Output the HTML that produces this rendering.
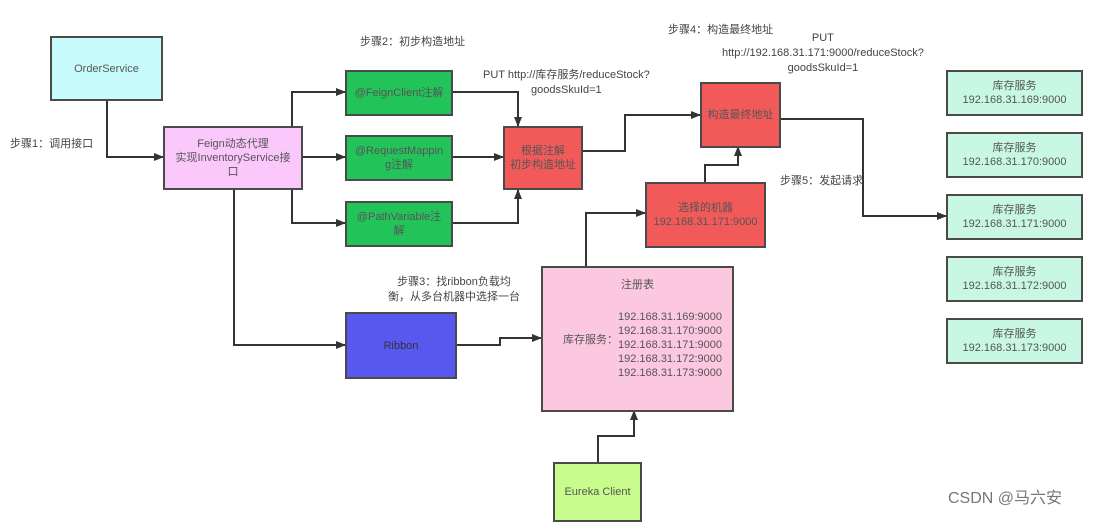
<!DOCTYPE html>
<html><head><meta charset="utf-8"><style>
body{margin:0;width:1095px;height:513px;background:#fff;overflow:hidden;position:relative;font-family:"Liberation Sans","Noto Sans CJK SC",sans-serif;}
.b{position:absolute;border:2px solid #4a4a4a;box-sizing:border-box;display:flex;align-items:center;justify-content:center;text-align:center;font-size:11px;color:#555;line-height:14px;}
.t{position:absolute;font-size:11px;color:#444;white-space:nowrap;line-height:15px;}
.g{background:#22c45a;}.r{background:#f25a5a;}.s{background:#c8f8e4;}
</style></head><body>
<svg width="1095" height="513" style="position:absolute;left:0;top:0">
<defs><marker id="a" markerWidth="10" markerHeight="8" refX="9" refY="4" orient="auto" markerUnits="userSpaceOnUse"><path d="M0,0L10,4L0,8z" fill="#333"/></marker></defs>
<g fill="none" stroke="#333" stroke-width="2" marker-end="url(#a)">
<polyline points="107,100 107,157 163,157"/>
<polyline points="292,126 292,92 345,92"/>
<polyline points="303,157 345,157"/>
<polyline points="292,189 292,223 345,223"/>
<polyline points="453,92 518,92 518,126"/>
<polyline points="453,157 503,157"/>
<polyline points="453,223 518,223 518,190"/>
<polyline points="583,151 625,151 625,115 700,115"/>
<polyline points="705,182 705,165 738,165 738,147"/>
<polyline points="780,119 863,119 863,216 946,216"/>
<polyline points="234,189 234,345 345,345"/>
<polyline points="456,345 500,345 500,338 541,338"/>
<polyline points="586,266 586,213 645,213"/>
<polyline points="598,462 598,436 634,436 634,411"/>
</g></svg>
<div class="b" style="left:50px;top:36px;width:113px;height:65px;background:#c8fcfc">OrderService</div>
<div class="b" style="left:163px;top:126px;width:140px;height:64px;background:#fac8fa">Feign动态代理<br>实现InventoryService接<br>口</div>
<div class="b g" style="left:345px;top:70px;width:108px;height:46px">@FeignClient注解</div>
<div class="b g" style="left:345px;top:135px;width:108px;height:46px">@RequestMappin<br>g注解</div>
<div class="b g" style="left:345px;top:201px;width:108px;height:46px">@PathVariable注<br>解</div>
<div class="b r" style="left:503px;top:126px;width:80px;height:64px">根据注解<br>初步构造地址</div>
<div class="b r" style="left:700px;top:82px;width:81px;height:66px">构造最终地址</div>
<div class="b r" style="left:645px;top:182px;width:121px;height:66px">选择的机器<br>192.168.31.171:9000</div>
<div class="b" style="left:345px;top:312px;width:112px;height:67px;background:#5858f0;color:#333">Ribbon</div>
<div class="b" style="left:541px;top:266px;width:193px;height:146px;background:#fcc8e0;display:block;text-align:left">
<div style="position:absolute;left:0;right:0;top:10px;text-align:center">注册表</div>
<div style="position:absolute;left:20px;top:65px">库存服务：</div>
<div style="position:absolute;left:75px;top:42px">192.168.31.169:9000<br>192.168.31.170:9000<br>192.168.31.171:9000<br>192.168.31.172:9000<br>192.168.31.173:9000</div></div>
<div class="b" style="left:553px;top:462px;width:89px;height:60px;background:#c8fc8c">Eureka Client</div>
<div class="b s" style="left:946px;top:70px;width:137px;height:46px">库存服务<br>192.168.31.169:9000</div>
<div class="b s" style="left:946px;top:132px;width:137px;height:46px">库存服务<br>192.168.31.170:9000</div>
<div class="b s" style="left:946px;top:194px;width:137px;height:46px">库存服务<br>192.168.31.171:9000</div>
<div class="b s" style="left:946px;top:256px;width:137px;height:46px">库存服务<br>192.168.31.172:9000</div>
<div class="b s" style="left:946px;top:318px;width:137px;height:46px">库存服务<br>192.168.31.173:9000</div>
<div class="t" style="left:10px;top:137px">步骤1：调用接口</div>
<div class="t" style="left:360px;top:35px">步骤2：初步构造地址</div>
<div class="t" style="left:483px;top:68px;text-align:center">PUT http://库存服务/reduceStock?<br>goodsSkuId=1</div>
<div class="t" style="left:668px;top:23px">步骤4：构造最终地址</div>
<div class="t" style="left:722px;top:31px;text-align:center">PUT<br>http://192.168.31.171:9000/reduceStock?<br>goodsSkuId=1</div>
<div class="t" style="left:780px;top:174px">步骤5：发起请求</div>
<div class="t" style="left:388px;top:275px;text-align:center">步骤3：找ribbon负载均<br>衡，从多台机器中选择一台</div>
<div style="position:absolute;left:948px;top:484px;font-size:16px;color:#777;font-family:'Liberation Sans','Noto Sans CJK SC',sans-serif">CSDN @马六安</div>
</body></html>
